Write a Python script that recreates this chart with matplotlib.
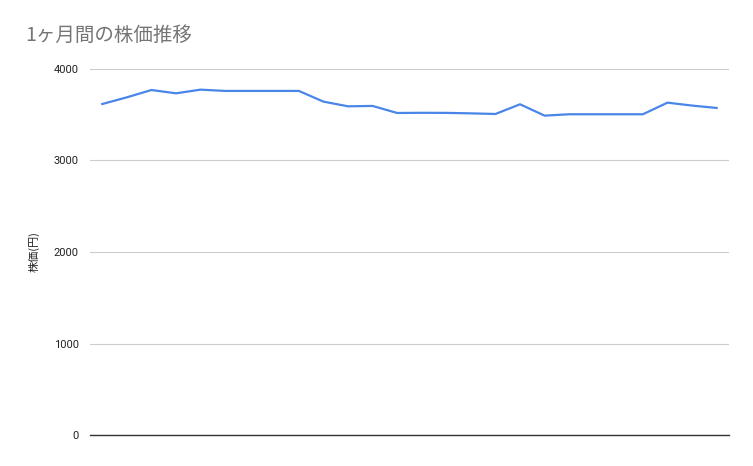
import matplotlib
matplotlib.use("Agg")
import matplotlib.pyplot as plt

plt.rcParams["font.family"] = ["Roboto", "Noto Sans CJK JP", "DejaVu Sans"]

# daily closing prices over one month (yen)
days = list(range(26))
prices = [3617, 3690, 3770, 3734, 3774, 3760, 3760, 3760, 3760, 3643,
          3592, 3596, 3519, 3521, 3520, 3515, 3508, 3614, 3490, 3505,
          3505, 3505, 3505, 3632, 3600, 3574]
yticks = [0, 1000, 2000, 3000, 4000]

fig = plt.figure(figsize=(7.53, 4.66), dpi=100)
ax = fig.add_axes([0.1195, 0.0665, 0.8485, 0.7855])

ax.plot(days, prices, color="#4a86e8", lw=1.6)

ax.set_xlim(-0.5, 25.5)
ax.set_ylim(0, 4000)
ax.set_yticks(yticks)
ax.set_yticklabels([str(v) for v in yticks], fontsize=8, color="#222222")
ax.set_xticks([])
ax.grid(axis="y", color="#cccccc", lw=0.8)
ax.set_axisbelow(True)
for s in ["top", "right", "left"]:
    ax.spines[s].set_visible(False)
ax.spines["bottom"].set_color("#333333")
ax.spines["bottom"].set_linewidth(1.0)
ax.tick_params(axis="y", length=0, pad=8)

ax.set_ylabel("株価(円)", fontsize=8, color="#222222",
              family=["Noto Sans CJK JP", "DejaVu Sans"])
ax.yaxis.set_label_coords(-0.079, 0.5)

fig.text(0.033, 0.925, "1ヶ月間の株価推移", fontsize=14, color="#757575",
         family=["Noto Sans CJK JP", "DejaVu Sans"], va="center")

fig.savefig("out.png", dpi=100)
